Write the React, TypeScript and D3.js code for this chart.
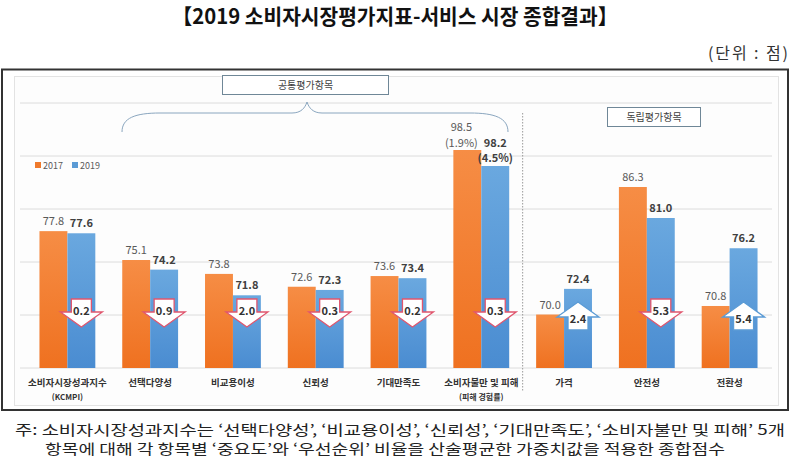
import React from 'react';
import * as d3 from 'd3';

const categories = ['소비자시장성과지수', '선택다양성', '비교용이성', '신뢰성', '기대만족도', '소비자불만 및 피해', '가격', '안전성', '전환성'];
const subLabels = ['(KCMPI)', '', '', '', '', '(피해 경험률)', '', '', ''];
const values2017 = [77.8, 75.1, 73.8, 72.6, 73.6, 98.5, 70.0, 86.3, 70.8];
const values2019 = [77.6, 74.2, 71.8, 72.3, 73.4, 98.2, 72.4, 81.0, 76.2];
const rates2017 = ['', '', '', '', '', '(1.9%)', '', '', ''];
const rates2019 = ['', '', '', '', '', '(4.5%)', '', '', ''];
const seriesNames = ['2017', '2019'];
const gridTicks = [65, 70, 75, 80, 85, 90];
const commonLabel = '공통평가항목';
const independentLabel = '독립평가항목';
const title = '【2019 소비자시장평가지표-서비스 시장 종합결과】';
const unitLabel = '(단위 : 점)';
const noteLine1 = '주: 소비자시장성과지수는 ‘선택다양성’, ‘비교용이성’, ‘신뢰성’, ‘기대만족도’, ‘소비자불만  및  피해’ 5개';
const noteLine2 = '항목에 대해 각 항목별 ‘중요도’와 ‘우선순위’ 비율을 산술평균한 가중치값을 적용한 종합점수';

const KR = '"Noto Sans CJK KR", "Noto Sans", sans-serif';

export default function App() {
  const x = d3.scaleBand<string>().domain(categories).range([26, 771]).paddingInner(0.3253).paddingOuter(0.1627);
  const xs = d3.scaleBand<string>().domain(seriesNames).range([0, x.bandwidth()]);
  // grid scale (linear) and the chart's own (non-proportional) bar scale
  const gy = d3.scaleLinear().domain([65, 90]).range([368, 103]);
  const y = d3.scaleLinear().domain([65, 78, 81, 86.3, 98.2, 98.5]).range([368, 229, 218, 187, 166, 150]);
  const base = y(65);

  const arrows = categories.map((c, i) => {
    const d = values2019[i] - values2017[i];
    return { c, up: d > 0, label: Math.abs(d).toFixed(1) };
  });

  const downPath = (cx: number, t: number) =>
    `M${cx - 10},${t} L${cx + 10},${t} L${cx + 10},${t + 13} L${cx + 21},${t + 13} L${cx},${t + 28} L${cx - 21},${t + 13} L${cx - 10},${t + 13} Z`;
  const upPath = (cx: number, t: number) =>
    `M${cx},${t} L${cx + 21},${t + 15} L${cx + 10},${t + 15} L${cx + 10},${t + 28} L${cx - 10},${t + 28} L${cx - 10},${t + 15} L${cx - 21},${t + 15} Z`;

  const sepX = (x(categories[5])! + x.bandwidth() + x(categories[6])!) / 2;

  return (
    <div style={{ position: 'absolute', left: 0, top: 0 }}>
      <svg width={794} height={461} style={{ display: 'block', background: '#fff' }}>
        <defs>
          <linearGradient id="gOr" x1="0" y1="0" x2="0" y2="1">
            <stop offset="0" stopColor="#f68d45" />
            <stop offset="1" stopColor="#ef7120" />
          </linearGradient>
          <linearGradient id="gBl" x1="0" y1="0" x2="0" y2="1">
            <stop offset="0" stopColor="#6aa8df" />
            <stop offset="1" stopColor="#4a8cd1" />
          </linearGradient>
        </defs>

        <text x={395} y={24} textAnchor="middle" fontFamily={KR} fontWeight={700} fontSize={21} fill="#111" textLength={446} lengthAdjust="spacingAndGlyphs">{title}</text>
        <text x={708} y={59} fontFamily={KR} fontSize={16} fill="#333" textLength={80} lengthAdjust="spacing">{unitLabel}</text>

        <rect x={2} y={69.5} width={786} height={340.5} fill="#fff" stroke="#333" strokeWidth={2} />
        <rect x={14.5} y={76.5} width={764} height={329} fill="#fdfdfd" stroke="#e3e3e3" strokeWidth={1} />

        {gridTicks.map(t => (
          <line key={t} x1={20} x2={772} y1={gy(t)} y2={gy(t)} stroke="#dcdcdc" strokeWidth={1} />
        ))}

        {/* legend */}
        {seriesNames.map((s, i) => (
          <g key={s} transform={`translate(${35 + i * 37},165)`}>
            <rect x={0} y={-3} width={6} height={6} fill={i === 0 ? '#ef7a2c' : '#5b9bd5'} />
            <text x={8} y={3.5} fontFamily={KR} fontSize={9} fill="#595959">{s}</text>
          </g>
        ))}

        {/* brace + boxes */}
        <path d="M122,132 C122,118 135,113 160,113 L292,113 C301,113 305,108 307,102 C309,108 313,113 322,113 L470,113 C495,113 508,118 508,132" fill="none" stroke="#8aa6bf" strokeWidth={1} />
        <rect x={222.5} y={75.5} width={166} height={19} fill="#fff" stroke="#6f8797" strokeWidth={1} />
        <text x={305.5} y={89} textAnchor="middle" fontFamily={KR} fontSize={10} fill="#404040">{commonLabel}</text>
        <rect x={607.5} y={107.5} width={93} height={19} fill="#fff" stroke="#6f8797" strokeWidth={1} />
        <text x={654} y={121} textAnchor="middle" fontFamily={KR} fontSize={10} fill="#404040">{independentLabel}</text>

        <line x1={sepX} x2={sepX} y1={113} y2={392} stroke="#999" strokeWidth={1} strokeDasharray="1.5,1.5" />

        {/* bars */}
        {categories.map((c, i) => {
          const x0 = x(c)!;
          const xo = x0 + xs('2017')!;
          const xb = x0 + xs('2019')!;
          const w = xs.bandwidth();
          const t17 = y(values2017[i]);
          const t19 = y(values2019[i]);
          return (
            <g key={c}>
              <rect x={xo} y={t17} width={w} height={base - t17} fill="url(#gOr)" />
              <rect x={xb} y={t19} width={w} height={base - t19} fill="url(#gBl)" />
              {rates2017[i] ? (
                <>
                  <text x={xo + w / 2 - 6} y={t17 - 19} textAnchor="middle" fontFamily={KR} fontSize={11} fill="#595959">{values2017[i].toFixed(1)}</text>
                  <text x={xo + w / 2 - 6} y={t17 - 3} textAnchor="middle" fontFamily={KR} fontSize={11} fill="#595959">{rates2017[i]}</text>
                </>
              ) : (
                <text x={xo + w / 2} y={t17 - 6} textAnchor="middle" fontFamily={KR} fontSize={11} fill="#595959">{values2017[i].toFixed(1)}</text>
              )}
              {rates2019[i] ? (
                <>
                  <text x={xb + w / 2} y={t17 - 3} textAnchor="middle" fontFamily={KR} fontWeight={700} fontSize={11} fill="#404040">{values2019[i].toFixed(1)}</text>
                  <text x={xb + w / 2} y={t19 - 4} textAnchor="middle" fontFamily={KR} fontWeight={700} fontSize={11} fill="#404040">{rates2019[i]}</text>
                </>
              ) : (
                <text x={xb + w / 2} y={t19 - 6} textAnchor="middle" fontFamily={KR} fontWeight={700} fontSize={11} fill="#404040">{values2019[i].toFixed(1)}</text>
              )}
              <text x={x0 + x.bandwidth() / 2} y={386} textAnchor="middle" fontFamily={KR} fontWeight={700} fontSize={9.5} fill="#333">{c}</text>
              {subLabels[i] && (
                <text x={x0 + x.bandwidth() / 2} y={400} textAnchor="middle" fontFamily={KR} fontWeight={700} fontSize={8} fill="#333">{subLabels[i]}</text>
              )}
            </g>
          );
        })}

        {/* change arrows */}
        {arrows.map(a => {
          const cx = x(a.c)! + xs('2019')! + xs.bandwidth() / 2;
          if (a.up) {
            const t = gy(70) - 13;
            return (
              <g key={a.c}>
                <path d={upPath(cx, t)} fill="#fff" stroke="#5b9bd5" strokeWidth={1.3} strokeLinejoin="miter" />
                <text x={cx} y={t + 21} textAnchor="middle" fontFamily={KR} fontWeight={700} fontSize={11} fill="#333">{a.label}</text>
              </g>
            );
          }
          const t = gy(70) - 16;
          return (
            <g key={a.c}>
              <path d={downPath(cx, t)} fill="#fff" stroke="#e0566e" strokeWidth={1.3} strokeLinejoin="miter" />
              <text x={cx} y={t + 16} textAnchor="middle" fontFamily={KR} fontWeight={700} fontSize={11} fill="#333">{a.label}</text>
            </g>
          );
        })}

        <text x={15} y={435} fontFamily={KR} fontSize={14} fill="#222" textLength={770} lengthAdjust="spacingAndGlyphs">{noteLine1}</text>
        <text x={45} y={454} fontFamily={KR} fontSize={14} fill="#222" textLength={680} lengthAdjust="spacingAndGlyphs">{noteLine2}</text>
      </svg>
    </div>
  );
}
